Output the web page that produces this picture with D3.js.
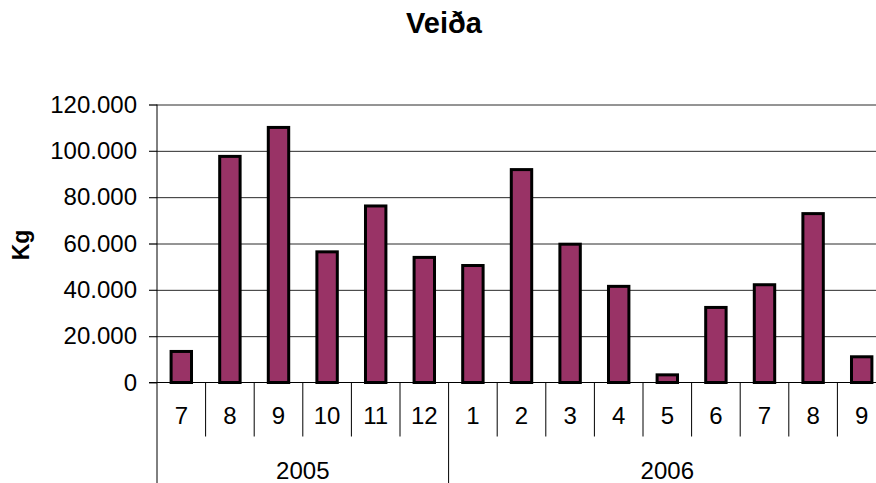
<!DOCTYPE html>
<html>
<head>
<meta charset="utf-8">
<script src="https://cdn.jsdelivr.net/npm/d3@7"></script>
<style>
  body { margin: 0; background: #fff; }
  svg { display: block; font-family: "Liberation Sans", Arial, sans-serif; }
  .grid line { stroke: #2a2a2a; stroke-width: 1; }
  .grid .domain { display: none; }
  .bar { fill: #993366; stroke: #000; stroke-width: 3; }
</style>
</head>
<body>
<script>
// data
var months = ["7", "8", "9", "10", "11", "12", "1", "2", "3", "4", "5", "6", "7", "8", "9"];
var years = ["2005", "2005", "2005", "2005", "2005", "2005",
             "2006", "2006", "2006", "2006", "2006", "2006", "2006", "2006", "2006"];
var catch_kg = [13400, 97600, 110100, 56400, 76200, 54000, 50500, 91900, 59700, 41500, 3300, 32400, 42200, 72900, 11100];
var yTicks = [0, 20000, 40000, 60000, 80000, 100000, 120000];

var margin = {top: 104.5, left: 157},
    width = 729,
    height = 278;

var svg = d3.select("body")
    .append("svg")
    .attr("width", 876)
    .attr("height", 483);

var g = svg.append("g")
    .attr("transform", "translate(" + margin.left + "," + margin.top + ")");

var x = d3.scaleBand()
    .domain(d3.range(months.length))
    .range([0, width]);

var y = d3.scaleLinear()
    .domain([0, 120000])
    .range([height, 0]);

// icelandic style thousands
var fmt = d3.formatLocale({decimal: ",", thousands: ".", grouping: [3], currency: ["", ""]}).format(",d");

// gridlines
g.append("g")
    .attr("class", "grid")
    .attr("transform", "translate(-8,0)")
    .call(d3.axisLeft(y).tickValues(yTicks.slice(1)).tickSize(-(width + 8)).tickFormat(""));

// y axis
var yAxis = g.append("g")
    .call(d3.axisLeft(y).tickValues(yTicks).tickSize(8).tickPadding(12).tickFormat(fmt));
yAxis.select(".domain").remove();
yAxis.selectAll("line").attr("stroke", "#2a2a2a");
yAxis.selectAll("text")
    .style("font-size", "24px")
    .attr("fill", "#000");

// bars
var bw = x.bandwidth() * 0.42;
g.selectAll(".bar")
    .data(catch_kg)
    .enter().append("rect")
    .attr("class", "bar")
    .attr("x", function(d, i) { return x(i) + (x.bandwidth() - bw) / 2; })
    .attr("y", function(d) { return y(d); })
    .attr("width", bw)
    .attr("height", function(d) { return height - y(d); });

// category axis (months)
var xAxis = g.append("g")
    .attr("transform", "translate(0," + height + ")")
    .call(d3.axisBottom(x).tickSize(0).tickPadding(24).tickFormat(function(i) { return months[i]; }));
xAxis.select(".domain").remove();
xAxis.selectAll("text")
    .style("font-size", "24px")
    .attr("fill", "#000");

g.append("line")
    .attr("x1", -8).attr("x2", width)
    .attr("y1", height).attr("y2", height)
    .attr("stroke", "#000");

// left axis line, runs down through the category rows
g.append("line")
    .attr("x1", 0).attr("x2", 0)
    .attr("y1", 0).attr("y2", 483 - margin.top)
    .attr("stroke", "#000");

// separators between months
g.selectAll(".sep")
    .data(d3.range(1, months.length + 1))
    .enter().append("line")
    .attr("class", "sep")
    .attr("x1", function(i) { return x(i - 1) + x.bandwidth(); })
    .attr("x2", function(i) { return x(i - 1) + x.bandwidth(); })
    .attr("y1", height)
    .attr("y2", function(i) { return years[i] !== years[i - 1] ? 483 - margin.top : height + 54; })
    .attr("stroke", "#000");

// year labels
var yearGroups = d3.groups(d3.range(months.length), function(i) { return years[i]; });
g.selectAll(".year")
    .data(yearGroups)
    .enter().append("text")
    .attr("class", "year")
    .attr("x", function(d) { var a = d[1][0], b = d[1][d[1].length - 1]; return (x(a) + x(b) + x.bandwidth()) / 2; })
    .attr("y", height + 96)
    .attr("text-anchor", "middle")
    .style("font-size", "24px")
    .text(function(d) { return d[0]; });

// title
svg.append("text")
    .attr("x", 444)
    .attr("y", 33)
    .attr("text-anchor", "middle")
    .style("font-size", "29px")
    .style("font-weight", "bold")
    .text("Veiða");

// y label
svg.append("text")
    .attr("transform", "translate(29,245) rotate(-90)")
    .attr("text-anchor", "middle")
    .style("font-size", "23px")
    .style("font-weight", "bold")
    .text("Kg");
</script>
</body>
</html>
